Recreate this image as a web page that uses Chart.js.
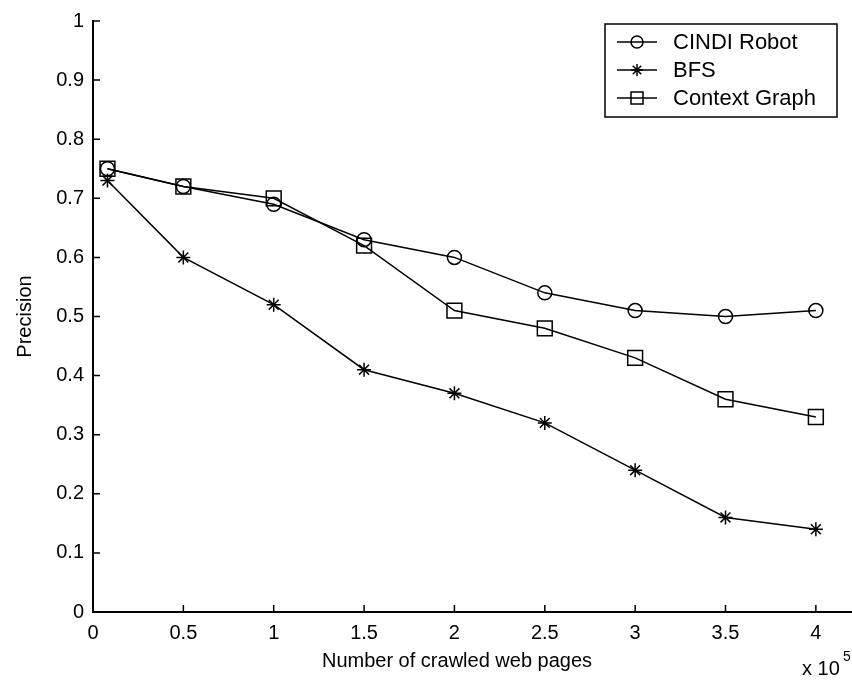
<!DOCTYPE html>
<html>
<head>
<meta charset="utf-8">
<script src="https://cdn.jsdelivr.net/npm/chart.js@4.4.0/dist/chart.umd.min.js"></script>
<style>
  html, body { margin: 0; padding: 0; background: #fff; }
  #wrap { width: 852px; height: 681px; }
</style>
</head>
<body>
<div id="wrap"><canvas id="precisionChart" width="852" height="681"></canvas></div>
<script>
// Precision vs number of crawled pages (x 10^5)
const pages = [0.08, 0.5, 1, 1.5, 2, 2.5, 3, 3.5, 4];
const cindiRobot = [0.75, 0.72, 0.69, 0.63, 0.60, 0.54, 0.51, 0.50, 0.51];
const bfs = [0.73, 0.60, 0.52, 0.41, 0.37, 0.32, 0.24, 0.16, 0.14];
const contextGraph = [0.75, 0.72, 0.70, 0.62, 0.51, 0.48, 0.43, 0.36, 0.33];
const xTicks = [0, 0.5, 1, 1.5, 2, 2.5, 3, 3.5, 4];
const seriesNames = ['CINDI Robot', 'BFS', 'Context Graph'];

const FONT = '"Liberation Sans", Arial, sans-serif';

function toPoints(ys) {
    return pages.map((x, i) => ({ x: x, y: ys[i] }));
}

function fmt(v) {
    return String(Math.round(v * 10) / 10);
}

function makeSeries(label, ys, style, radius) {
    return {
        label: label,
        data: toPoints(ys),
        borderColor: '#000',
        backgroundColor: 'rgba(0,0,0,0)',
        borderWidth: 1.5,
        pointStyle: style,
        pointRadius: radius,
        pointBorderWidth: 1.5,
        pointBorderColor: '#000',
        pointBackgroundColor: 'rgba(0,0,0,0)',
        tension: 0,
        clip: false
    };
}

// inward ticks, boxed legend, axis title and exponent
const matlabBits = {
    id: 'matlabBits',
    afterDraw(chart) {
        const ctx = chart.ctx;
        const xs = chart.scales.x, ys = chart.scales.y;
        const area = chart.chartArea;
        ctx.save();
        ctx.strokeStyle = '#000';
        ctx.lineWidth = 1.5;
        ctx.beginPath();
        xs.ticks.forEach(t => {
            const px = xs.getPixelForValue(t.value);
            ctx.moveTo(px, area.bottom);
            ctx.lineTo(px, area.bottom - 7);
        });
        ys.ticks.forEach(t => {
            const py = ys.getPixelForValue(t.value);
            ctx.moveTo(area.left, py);
            ctx.lineTo(area.left + 7, py);
        });
        ctx.stroke();

        // legend
        const lx = 605, ly = 24, lw = 232, lh = 93;
        ctx.fillStyle = '#fff';
        ctx.fillRect(lx, ly, lw, lh);
        ctx.lineWidth = 1.5;
        ctx.strokeRect(lx, ly, lw, lh);
        chart.data.datasets.forEach((ds, i) => {
            const y = 42 + i * 28;
            ctx.beginPath();
            ctx.lineWidth = 1.5;
            ctx.moveTo(lx + 12, y);
            ctx.lineTo(lx + 52, y);
            ctx.stroke();
            ctx.fillStyle = 'rgba(0,0,0,0)';
            Chart.helpers.drawPoint(ctx, {
                pointStyle: ds.pointStyle,
                radius: ds.pointStyle === 'rect' ? 8.5 : 6,
                borderWidth: 1.5,
                rotation: 0
            }, lx + 32, y);
            ctx.fillStyle = '#000';
            ctx.font = '22px ' + FONT;
            ctx.textBaseline = 'middle';
            ctx.textAlign = 'left';
            ctx.fillText(ds.label, lx + 68, y + 1);
        });

        // x axis title and scale factor
        ctx.fillStyle = '#000';
        ctx.textAlign = 'center';
        ctx.textBaseline = 'middle';
        ctx.font = '20px ' + FONT;
        ctx.fillText('Number of crawled web pages', 457, 661);
        ctx.textAlign = 'left';
        ctx.fillText('x 10', 802, 669);
        ctx.font = '14px ' + FONT;
        ctx.fillText('5', 843, 657);
        ctx.restore();
    }
};

new Chart(document.getElementById('precisionChart'), {
    type: 'line',
    data: {
        datasets: [
            makeSeries(seriesNames[0], cindiRobot, 'circle', 7),
            makeSeries(seriesNames[1], bfs, 'star', 7),
            makeSeries(seriesNames[2], contextGraph, 'rect', 10.5)
        ]
    },
    options: {
        responsive: false,
        animation: false,
        layout: { autoPadding: false, padding: { top: 17, right: 0, left: 0, bottom: 0 } },
        plugins: {
            legend: { display: false },
            tooltip: { enabled: false }
        },
        scales: {
            x: {
                type: 'linear',
                min: 0,
                max: 4.2,
                afterBuildTicks: scale => {
                    scale.ticks = xTicks.map(v => ({ value: v }));
                },
                afterFit: scale => {
                    scale.height = 69;
                    scale.paddingLeft = 0;
                    scale.paddingRight = 0;
                },
                grid: { drawOnChartArea: false, drawTicks: false },
                border: { color: '#000', width: 2 },
                ticks: {
                    color: '#000',
                    padding: 9,
                    maxRotation: 0,
                    autoSkip: false,
                    font: { family: FONT, size: 20 },
                    callback: v => fmt(v)
                }
            },
            y: {
                min: 0,
                max: 1,
                afterFit: scale => { scale.width = 93; },
                grid: { drawOnChartArea: false, drawTicks: false },
                border: { color: '#000', width: 2 },
                ticks: {
                    color: '#000',
                    stepSize: 0.1,
                    padding: 9,
                    font: { family: FONT, size: 20 },
                    callback: v => fmt(v)
                },
                title: {
                    display: true,
                    text: 'Precision',
                    color: '#000',
                    padding: { top: 13, bottom: 0 },
                    font: { family: FONT, size: 20 }
                }
            }
        }
    },
    plugins: [matlabBits]
});
</script>
</body>
</html>
